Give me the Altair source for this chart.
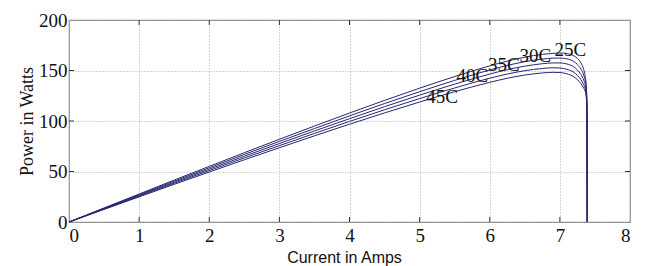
import altair as alt
import pandas as pd

current = [0, 0.5, 1, 1.5, 2, 2.5, 3, 3.5, 4, 4.5, 5, 5.5, 6, 6.25, 6.5, 6.75,
           6.9, 7.0, 7.1, 7.2, 7.25, 7.3, 7.34, 7.36, 7.375, 7.385, 7.39]

p25 = [0, 13.9, 27.7, 41.5, 55.1, 68.6, 81.9, 95.0, 107.9, 120.4, 132.5, 144.0, 154.6, 159.3,
       163.2, 166.0, 167.0, 167.3, 166.8, 164.5, 162.0, 157.5, 151.0, 145.0, 136.0, 120.0, 0]
p30 = [0, 13.55, 27.0, 40.5, 53.7, 66.9, 79.8, 92.5, 105.1, 117.3, 129.0, 140.2, 150.5, 155.0,
       158.7, 161.3, 162.2, 162.3, 161.5, 158.8, 156.0, 151.5, 145.5, 140.5, 133.0, 118.0, 0]
p35 = [0, 13.2, 26.3, 39.4, 52.3, 65.1, 77.7, 90.1, 102.3, 114.2, 125.6, 136.5, 146.5, 150.8,
       154.3, 156.7, 157.5, 157.5, 156.5, 153.5, 150.5, 146.0, 140.5, 136.5, 130.0, 116.0, 0]
p40 = [0, 12.85, 25.6, 38.4, 50.9, 63.4, 75.6, 87.7, 99.6, 111.1, 122.2, 132.7, 142.4, 146.5,
       149.8, 152.0, 152.7, 152.5, 151.2, 148.2, 145.2, 141.0, 136.0, 132.5, 127.0, 114.0, 0]
p45 = [0, 12.5, 24.9, 37.3, 49.5, 61.6, 73.5, 85.3, 96.8, 108.0, 118.8, 129.0, 138.3, 142.3,
       145.5, 147.6, 148.2, 148.0, 146.7, 143.7, 140.8, 137.0, 132.5, 129.5, 124.5, 112.0, 0]

series = {"25C": p25, "30C": p30, "35C": p35, "40C": p40, "45C": p45}

label_text = ["45C", "40C", "35C", "30C", "25C"]
label_x = [5.32, 5.75, 6.2, 6.65, 7.15]
label_y = [123.5, 144.5, 155.5, 164.0, 170.0]

x_ticks = [0, 1, 2, 3, 4, 5, 6, 7, 8]
y_ticks = [0, 50, 100, 150, 200]

SERIF = "Liberation Serif"
SANS = "Liberation Sans"

rows = []
for name, vals in series.items():
    for i, p in zip(current, vals):
        rows.append({"temp": name, "I": i, "P": p})
df = pd.DataFrame(rows)
labels = pd.DataFrame({"t": label_text, "I": label_x, "P": label_y})

xs = alt.Scale(domain=[0, 8], nice=False)
ys = alt.Scale(domain=[0, 200], nice=False)

lines = alt.Chart(df).mark_line(color="#262670", strokeWidth=1, interpolate="monotone").encode(
    x=alt.X("I:Q", scale=xs, title="Current in Amps",
            axis=alt.Axis(values=x_ticks, format="d", tickSize=0, labelPadding=4,
                          labelFont=SERIF, labelFontSize=19, labelColor="#111",
                          titleFont=SANS, titleFontSize=16, titleFontWeight="normal",
                          titleColor="#111", titleBaseline="alphabetic", titleY=40, titleX=275,
                          grid=True, gridDash=[1, 2], gridColor="#aaa", domain=False)),
    y=alt.Y("P:Q", scale=ys, title="Power in Watts",
            axis=alt.Axis(values=y_ticks, tickSize=0, labelPadding=2,
                          labelFont=SERIF, labelFontSize=19, labelColor="#111",
                          titleFont=SERIF, titleFontSize=18, titleFontWeight="normal",
                          titleColor="#111", titleBaseline="alphabetic", titleX=-37,
                          grid=True, gridDash=[1, 2], gridColor="#aaa", domain=False)),
    detail="temp:N",
)

texts = alt.Chart(labels).mark_text(font=SERIF, fontSize=19, color="#111").encode(
    x=alt.X("I:Q", scale=xs), y=alt.Y("P:Q", scale=ys), text="t:N"
)

tick_df_x = pd.DataFrame({"v": x_ticks[1:-1]})
bt = alt.Chart(tick_df_x).mark_rule(color="#333", strokeWidth=1).encode(
    x=alt.X("v:Q", scale=xs), y=alt.value(202), y2=alt.value(197))
tt = alt.Chart(tick_df_x).mark_rule(color="#333", strokeWidth=1).encode(
    x=alt.X("v:Q", scale=xs), y=alt.value(0), y2=alt.value(5))
tick_df_y = pd.DataFrame({"v": y_ticks[1:-1]})
lt = alt.Chart(tick_df_y).mark_rule(color="#333", strokeWidth=1).encode(
    y=alt.Y("v:Q", scale=ys), x=alt.value(0), x2=alt.value(5))
rt = alt.Chart(tick_df_y).mark_rule(color="#333", strokeWidth=1).encode(
    y=alt.Y("v:Q", scale=ys), x=alt.value(561), x2=alt.value(556))

chart = alt.layer(bt, tt, lt, rt, lines, texts).properties(
    width=561, height=202,
    autosize=alt.AutoSizeParams(type="none"),
    padding={"left": 61, "top": 12, "right": 8, "bottom": 44},
).configure_view(stroke="#888", strokeWidth=1.2)

chart.save("out.html", embed_options={"renderer": "svg", "actions": False})
